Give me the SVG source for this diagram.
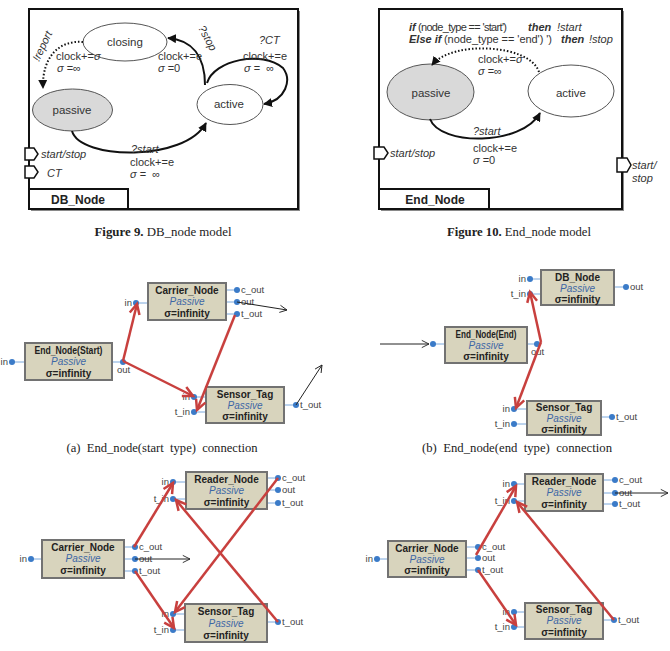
<svg xmlns="http://www.w3.org/2000/svg" width="670" height="651" viewBox="0 0 670 651">
<style>
.frame{fill:#fff;stroke:#111;stroke-width:2}
.shadow{fill:#8a8a8a}
.lbl{fill:#fff;stroke:#111;stroke-width:2}
.lbltx{font-family:"Liberation Sans",Arial,sans-serif;font-size:12px;font-weight:bold;fill:#222;text-anchor:middle}
.st{font-family:"Liberation Sans",Arial,sans-serif;font-size:11.5px;fill:#333;text-anchor:middle}
.ann{font-family:"Liberation Sans",Arial,sans-serif;font-size:11px;fill:#333}
.it{font-style:italic}
.bi{font-style:italic;font-weight:bold}
.ell{stroke:#555;stroke-width:1}
.port{fill:#fff;stroke:#111;stroke-width:1.5}
.sol{fill:none;stroke:#111;stroke-width:2}
.dot{fill:none;stroke:#111;stroke-width:2;stroke-dasharray:1.5 2}
.box{fill:#d8d4bd;stroke:#727272;stroke-width:2}
.t1{font-family:"Liberation Sans",Arial,sans-serif;font-size:10px;font-weight:bold;fill:#222;text-anchor:middle}
.t2{font-family:"Liberation Sans",Arial,sans-serif;font-size:10px;font-style:italic;fill:#3d67a6;text-anchor:middle}
.pl{stroke:#7aa8dc;stroke-width:1}
.pd{fill:#3b7bc8}
.ptx{font-family:"Liberation Sans",Arial,sans-serif;font-size:9.5px;fill:#444}
.pte{font-family:"Liberation Sans",Arial,sans-serif;font-size:9.5px;fill:#444;text-anchor:end}
.red{fill:none;stroke:#c8403e;stroke-width:2.5}
.blk{fill:none;stroke:#222;stroke-width:1}
.cap{font-family:"Liberation Serif","Times New Roman",serif;font-size:12px;fill:#222;text-anchor:middle}
</style>
<defs>
<marker id="ah" viewBox="0 0 10 10" refX="9" refY="5" markerWidth="9" markerHeight="9" markerUnits="userSpaceOnUse" orient="auto"><path d="M0,0 L10,5 L0,10 z" fill="#111"/></marker>
<marker id="rv" viewBox="0 0 12 12" refX="11" refY="6" markerWidth="12" markerHeight="12" markerUnits="userSpaceOnUse" orient="auto" overflow="visible"><path d="M1,1 L11,6 L1,11" fill="none" stroke="#c8403e" stroke-width="2.5"/></marker>
<marker id="kv" viewBox="0 0 10 10" refX="9" refY="5" markerWidth="9" markerHeight="9" markerUnits="userSpaceOnUse" orient="auto" overflow="visible"><path d="M1,1 L9,5 L1,9" fill="none" stroke="#222" stroke-width="1"/></marker>
</defs>

<!-- Figure 9 -->
<g id="fig9">
<rect class="shadow" x="31" y="11" width="269" height="200"/>
<rect class="frame" x="29" y="9" width="269" height="200"/>
<rect class="lbl" x="29" y="189" width="99" height="20"/>
<text class="lbltx" x="78" y="204">DB_Node</text>
<polygon class="port" points="25,148 34,148 38,154 34,160 25,160"/>
<polygon class="port" points="25,166 34,166 38,172 34,178 25,178"/>
<text class="ann it" x="41" y="158">start/stop</text>
<text class="ann it" x="47" y="177">CT</text>
</g>
<g id="fig9-closing"><ellipse class="ell" cx="125" cy="42" rx="42" ry="19" fill="#fff"/><text class="st" x="125" y="46">closing</text></g>
<g id="fig9-passive"><ellipse class="ell" cx="72.5" cy="110" rx="40" ry="21" fill="#d9d9d9"/><text class="st" x="72" y="114">passive</text></g>
<g id="fig9-active"><ellipse class="ell" cx="230" cy="104.5" rx="33" ry="20" fill="#fff"/><text class="st" x="229" y="108">active</text></g>
<g id="fig9-edges">
<path class="dot" d="M83,42 C60,40 42,56 43,88" marker-end="url(#ah)"/>
<path class="sol" d="M205,85 C205,56 192,40 168,38" marker-end="url(#ah)"/>
<path class="sol" d="M207,83 C214,60 262,50 283,68 C292,80 286,100 264,104" marker-end="url(#ah)"/>
<path class="sol" d="M72,131 C80,160 185,162 206,123" marker-end="url(#ah)"/>
<text class="ann it" transform="translate(39,62) rotate(-65)">!report</text>
<text class="ann" x="56" y="60">clock+=<tspan class="it">σ</tspan></text>
<text class="ann" x="57" y="72"><tspan class="it">σ</tspan> =∞</text>
<text class="ann it" transform="translate(198,28) rotate(62)">?stop</text>
<text class="ann" x="158" y="60">clock+=e</text>
<text class="ann" x="158" y="72"><tspan class="it">σ</tspan> =0</text>
<text class="ann it" x="259" y="44">?CT</text>
<text class="ann" x="243" y="60">clock+=e</text>
<text class="ann" x="244" y="72" xml:space="preserve"><tspan class="it">σ</tspan> =  ∞</text>
<text class="ann it" x="131" y="153" font-size="12">?start</text>
<text class="ann" x="130" y="166">clock+=e</text>
<text class="ann" x="130" y="178" xml:space="preserve"><tspan class="it">σ</tspan> =  ∞</text>
</g>
<text class="cap" x="163" y="236" textLength="137" lengthAdjust="spacingAndGlyphs"><tspan font-weight="bold">Figure 9.</tspan> DB_node model</text>

<!-- Figure 10 -->
<g id="fig10">
<rect class="shadow" x="381" y="11" width="243" height="200"/>
<rect class="frame" x="379" y="9" width="243" height="200"/>
<rect class="lbl" x="379" y="189" width="110" height="20"/>
<text class="lbltx" x="435" y="204">End_Node</text>
<polygon class="port" points="374,147 384,147 388,153 384,159 374,159"/>
<polygon class="port" points="617,158 627,158 631,165 627,172 617,172"/>
<text class="ann it" x="390" y="157">start/stop</text>
<text class="ann it" x="632" y="169">start/</text>
<text class="ann it" x="632" y="182">stop</text>
<text class="ann"><tspan class="bi" x="409" y="31">if</tspan><tspan x="418" y="31" textLength="89">(node_type == 'start')</tspan><tspan class="bi" x="528" y="31">then</tspan><tspan class="it" x="557" y="31">!start</tspan></text>
<text class="ann"><tspan class="bi" x="409" y="43">Else if</tspan><tspan x="444" y="43" textLength="108">(node_type == 'end') ')</tspan><tspan class="bi" x="561" y="43">then</tspan><tspan class="it" x="589" y="43">!stop</tspan></text>
</g>
<g id="fig10-passive"><ellipse class="ell" cx="430.5" cy="92" rx="43.5" ry="28" fill="#d9d9d9"/><text class="st" x="431" y="97">passive</text></g>
<g id="fig10-active"><ellipse class="ell" cx="571" cy="91" rx="43" ry="26" fill="#fff"/><text class="st" x="571" y="97">active</text></g>
<g id="fig10-edges">
<path class="dot" d="M539,72 C530,44 452,40 432,65" marker-end="url(#ah)"/>
<path class="sol" d="M430,119 C440,146 522,146 540,113" marker-end="url(#ah)"/>
<text class="ann" x="478" y="63">clock+=<tspan class="it">σ</tspan></text>
<text class="ann" x="478" y="75"><tspan class="it">σ</tspan> =∞</text>
<text class="ann it" x="473" y="135" font-size="12">?start</text>
<text class="ann" x="473" y="152">clock+=e</text>
<text class="ann" x="473" y="164"><tspan class="it">σ</tspan> =0</text>
</g>
<text class="cap" x="519" y="236" textLength="144" lengthAdjust="spacingAndGlyphs"><tspan font-weight="bold">Figure 10.</tspan> End_node model</text>

<!-- (a) -->
<g id="a-endnode">
<line class="pl" x1="12" y1="362" x2="25" y2="362"/><circle class="pd" cx="12" cy="362" r="3"/><text class="pte" x="8" y="365">in</text>
<line class="pl" x1="112" y1="362" x2="123" y2="362"/><circle class="pd" cx="123" cy="362" r="3"/><text class="ptx" x="117" y="373">out</text>
<rect class="box" x="25" y="343" width="87" height="37"/>
<text class="t1" x="68.5" y="354" textLength="68" lengthAdjust="spacingAndGlyphs">End_Node(Start)</text>
<text class="t2" x="68.5" y="365">Passive</text>
<text class="t1" x="68.5" y="377">σ=infinity</text>
</g>
<g id="a-carrier">
<line class="pl" x1="136" y1="303" x2="148" y2="303"/><circle class="pd" cx="136" cy="303" r="3"/><text class="pte" x="132" y="306">in</text>
<line class="pl" x1="226" y1="290" x2="237" y2="290"/><circle class="pd" cx="237" cy="290" r="3"/><text class="ptx" x="241" y="293">c_out</text>
<line class="pl" x1="226" y1="302" x2="237" y2="302"/><circle class="pd" cx="237" cy="302" r="3"/><text class="ptx" x="241" y="305">out</text>
<line class="pl" x1="226" y1="314" x2="237" y2="314"/><circle class="pd" cx="237" cy="314" r="3"/><text class="ptx" x="241" y="317">t_out</text>
<rect class="box" x="148" y="283" width="78" height="37"/>
<text class="t1" x="187" y="294">Carrier_Node</text>
<text class="t2" x="187" y="305">Passive</text>
<text class="t1" x="187" y="317">σ=infinity</text>
</g>
<g id="a-sensor">
<line class="pl" x1="194" y1="397" x2="206" y2="397"/><circle class="pd" cx="194" cy="397" r="3"/><text class="pte" x="190" y="400">in</text>
<line class="pl" x1="194" y1="412" x2="206" y2="412"/><circle class="pd" cx="194" cy="412" r="3"/><text class="pte" x="190" y="415">t_in</text>
<line class="pl" x1="284" y1="405" x2="296" y2="405"/><circle class="pd" cx="296" cy="405" r="3"/><text class="ptx" x="300" y="408">t_out</text>
<rect class="box" x="206" y="387" width="78" height="36"/>
<text class="t1" x="245" y="398">Sensor_Tag</text>
<text class="t2" x="245" y="409">Passive</text>
<text class="t1" x="245" y="420">σ=infinity</text>
</g>
<text class="cap" x="162" y="452" textLength="191" lengthAdjust="spacingAndGlyphs" xml:space="preserve">(a)  End_node(start  type)  connection</text>

<!-- (b) -->
<g id="b-dbnode">
<line class="pl" x1="530" y1="279" x2="541" y2="279"/><circle class="pd" cx="530" cy="279" r="3"/><text class="pte" x="526" y="282">in</text>
<line class="pl" x1="530" y1="294" x2="541" y2="294"/><circle class="pd" cx="530" cy="294" r="3"/><text class="pte" x="526" y="297">t_in</text>
<line class="pl" x1="614" y1="287" x2="626" y2="287"/><circle class="pd" cx="626" cy="287" r="3"/><text class="ptx" x="630" y="290">out</text>
<rect class="box" x="541" y="270" width="73" height="35"/>
<text class="t1" x="577.5" y="281">DB_Node</text>
<text class="t2" x="577.5" y="292">Passive</text>
<text class="t1" x="577.5" y="303">σ=infinity</text>
</g>
<g id="b-endnode">
<line class="pl" x1="433" y1="344" x2="445" y2="344"/><circle class="pd" cx="433" cy="344" r="3"/>
<line class="pl" x1="527" y1="344" x2="537" y2="344"/><circle class="pd" cx="537" cy="344" r="3"/><text class="ptx" x="531" y="355">out</text>
<rect class="box" x="445" y="327" width="82" height="36"/>
<text class="t1" x="486" y="338" textLength="61" lengthAdjust="spacingAndGlyphs">End_Node(End)</text>
<text class="t2" x="486" y="349">Passive</text>
<text class="t1" x="486" y="360">σ=infinity</text>
</g>
<g id="b-sensor">
<line class="pl" x1="514" y1="409" x2="527" y2="409"/><circle class="pd" cx="514" cy="409" r="3"/><text class="pte" x="510" y="412">in</text>
<line class="pl" x1="514" y1="424" x2="527" y2="424"/><circle class="pd" cx="514" cy="424" r="3"/><text class="pte" x="510" y="427">t_in</text>
<line class="pl" x1="601" y1="417" x2="612" y2="417"/><circle class="pd" cx="612" cy="417" r="3"/><text class="ptx" x="616" y="420">t_out</text>
<rect class="box" x="527" y="401" width="74" height="34"/>
<text class="t1" x="564" y="411">Sensor_Tag</text>
<text class="t2" x="564" y="422">Passive</text>
<text class="t1" x="564" y="433">σ=infinity</text>
</g>
<text class="cap" x="517" y="452" textLength="190" lengthAdjust="spacingAndGlyphs" xml:space="preserve">(b)  End_node(end  type)  connection</text>

<!-- (c) -->
<g id="c-reader">
<line class="pl" x1="173" y1="482" x2="186" y2="482"/><circle class="pd" cx="173" cy="482" r="3"/><text class="pte" x="169" y="485">in</text>
<line class="pl" x1="173" y1="499" x2="186" y2="499"/><circle class="pd" cx="173" cy="499" r="3"/><text class="pte" x="169" y="502">t_in</text>
<line class="pl" x1="267" y1="478" x2="278" y2="478"/><circle class="pd" cx="278" cy="478" r="3"/><text class="ptx" x="282" y="481">c_out</text>
<line class="pl" x1="267" y1="490" x2="278" y2="490"/><circle class="pd" cx="278" cy="490" r="3"/><text class="ptx" x="282" y="493">out</text>
<line class="pl" x1="267" y1="503" x2="278" y2="503"/><circle class="pd" cx="278" cy="503" r="3"/><text class="ptx" x="282" y="506">t_out</text>
<rect class="box" x="186" y="472" width="81" height="37"/>
<text class="t1" x="226.5" y="483">Reader_Node</text>
<text class="t2" x="226.5" y="494">Passive</text>
<text class="t1" x="226.5" y="506">σ=infinity</text>
</g>
<g id="c-carrier">
<line class="pl" x1="31" y1="559" x2="42" y2="559"/><circle class="pd" cx="31" cy="559" r="3"/><text class="pte" x="27" y="562">in</text>
<line class="pl" x1="124" y1="547" x2="135" y2="547"/><circle class="pd" cx="135" cy="547" r="3"/><text class="ptx" x="139" y="550">c_out</text>
<line class="pl" x1="124" y1="559" x2="135" y2="559"/><circle class="pd" cx="135" cy="559" r="3"/><text class="ptx" x="139" y="562">out</text>
<line class="pl" x1="124" y1="571" x2="135" y2="571"/><circle class="pd" cx="135" cy="571" r="3"/><text class="ptx" x="139" y="574">t_out</text>
<rect class="box" x="42" y="540" width="82" height="38"/>
<text class="t1" x="83" y="551">Carrier_Node</text>
<text class="t2" x="83" y="562">Passive</text>
<text class="t1" x="83" y="574">σ=infinity</text>
</g>
<g id="c-sensor">
<line class="pl" x1="173" y1="614" x2="185" y2="614"/><circle class="pd" cx="173" cy="614" r="3"/><text class="pte" x="169" y="617">in</text>
<line class="pl" x1="173" y1="630" x2="185" y2="630"/><circle class="pd" cx="173" cy="630" r="3"/><text class="pte" x="169" y="633">t_in</text>
<line class="pl" x1="267" y1="622" x2="278" y2="622"/><circle class="pd" cx="278" cy="622" r="3"/><text class="ptx" x="282" y="625">t_out</text>
<rect class="box" x="185" y="604" width="82" height="38"/>
<text class="t1" x="226" y="615">Sensor_Tag</text>
<text class="t2" x="226" y="627">Passive</text>
<text class="t1" x="226" y="639">σ=infinity</text>
</g>

<!-- (d) -->
<g id="d-reader">
<line class="pl" x1="514" y1="484" x2="525" y2="484"/><circle class="pd" cx="514" cy="484" r="3"/><text class="pte" x="510" y="487">in</text>
<line class="pl" x1="514" y1="501" x2="525" y2="501"/><circle class="pd" cx="514" cy="501" r="3"/><text class="pte" x="510" y="504">t_in</text>
<line class="pl" x1="603" y1="480" x2="615" y2="480"/><circle class="pd" cx="615" cy="480" r="3"/><text class="ptx" x="619" y="483">c_out</text>
<line class="pl" x1="603" y1="493" x2="615" y2="493"/><circle class="pd" cx="615" cy="493" r="3"/><text class="ptx" x="619" y="496">out</text>
<line class="pl" x1="603" y1="504" x2="615" y2="504"/><circle class="pd" cx="615" cy="504" r="3"/><text class="ptx" x="619" y="507">t_out</text>
<rect class="box" x="525" y="474" width="78" height="37"/>
<text class="t1" x="564" y="485">Reader_Node</text>
<text class="t2" x="564" y="496">Passive</text>
<text class="t1" x="564" y="508">σ=infinity</text>
</g>
<g id="d-carrier">
<line class="pl" x1="377" y1="559" x2="388" y2="559"/><circle class="pd" cx="377" cy="559" r="3"/><text class="pte" x="373" y="562">in</text>
<line class="pl" x1="466" y1="547" x2="478" y2="547"/><circle class="pd" cx="478" cy="547" r="3"/><text class="ptx" x="482" y="550">c_out</text>
<line class="pl" x1="466" y1="558" x2="478" y2="558"/><circle class="pd" cx="478" cy="558" r="3"/><text class="ptx" x="482" y="561">out</text>
<line class="pl" x1="466" y1="570" x2="478" y2="570"/><circle class="pd" cx="478" cy="570" r="3"/><text class="ptx" x="482" y="573">t_out</text>
<rect class="box" x="388" y="541" width="78" height="36"/>
<text class="t1" x="427" y="552">Carrier_Node</text>
<text class="t2" x="427" y="563">Passive</text>
<text class="t1" x="427" y="574">σ=infinity</text>
</g>
<g id="d-sensor">
<line class="pl" x1="514" y1="612" x2="525" y2="612"/><circle class="pd" cx="514" cy="612" r="3"/><text class="pte" x="510" y="615">in</text>
<line class="pl" x1="514" y1="627" x2="525" y2="627"/><circle class="pd" cx="514" cy="627" r="3"/><text class="pte" x="510" y="630">t_in</text>
<line class="pl" x1="603" y1="620" x2="614" y2="620"/><circle class="pd" cx="614" cy="620" r="3"/><text class="ptx" x="618" y="623">t_out</text>
<rect class="box" x="525" y="603" width="78" height="36"/>
<text class="t1" x="564" y="613">Sensor_Tag</text>
<text class="t2" x="564" y="624">Passive</text>
<text class="t1" x="564" y="636">σ=infinity</text>
</g>

<g id="connectors">
<!-- (a) -->
<line class="red" x1="123" y1="361" x2="137" y2="304" marker-end="url(#rv)"/>
<line class="red" x1="123" y1="361" x2="193" y2="396" marker-end="url(#rv)"/>
<line class="red" x1="235" y1="315" x2="197" y2="410" marker-end="url(#rv)"/>
<line class="blk" x1="237" y1="302" x2="287" y2="310" marker-end="url(#kv)"/>
<line class="blk" x1="296" y1="405" x2="322" y2="365" marker-end="url(#kv)"/>
<!-- (b) -->
<line class="red" x1="541" y1="342" x2="530" y2="292" marker-end="url(#rv)"/>
<line class="red" x1="541" y1="342" x2="516" y2="408" marker-end="url(#rv)"/>
<line class="blk" x1="380" y1="344" x2="429" y2="344" marker-end="url(#kv)"/>
<!-- (c) -->
<line class="red" x1="134" y1="547" x2="173" y2="483" marker-end="url(#rv)"/>
<line class="red" x1="135" y1="571" x2="174" y2="628" marker-end="url(#rv)"/>
<line class="red" x1="278" y1="478" x2="175" y2="612" marker-end="url(#rv)"/>
<line class="red" x1="278" y1="622" x2="176" y2="500" marker-end="url(#rv)"/>
<line class="blk" x1="135" y1="559" x2="190" y2="559" marker-end="url(#kv)"/>
<!-- (d) -->
<line class="red" x1="476" y1="555" x2="516" y2="486" marker-end="url(#rv)"/>
<line class="red" x1="478" y1="570" x2="516" y2="625" marker-end="url(#rv)"/>
<line class="red" x1="614" y1="620" x2="517" y2="502" marker-end="url(#rv)"/>
<line class="blk" x1="615" y1="493" x2="668" y2="493" marker-end="url(#kv)"/>
</g>
</svg>
